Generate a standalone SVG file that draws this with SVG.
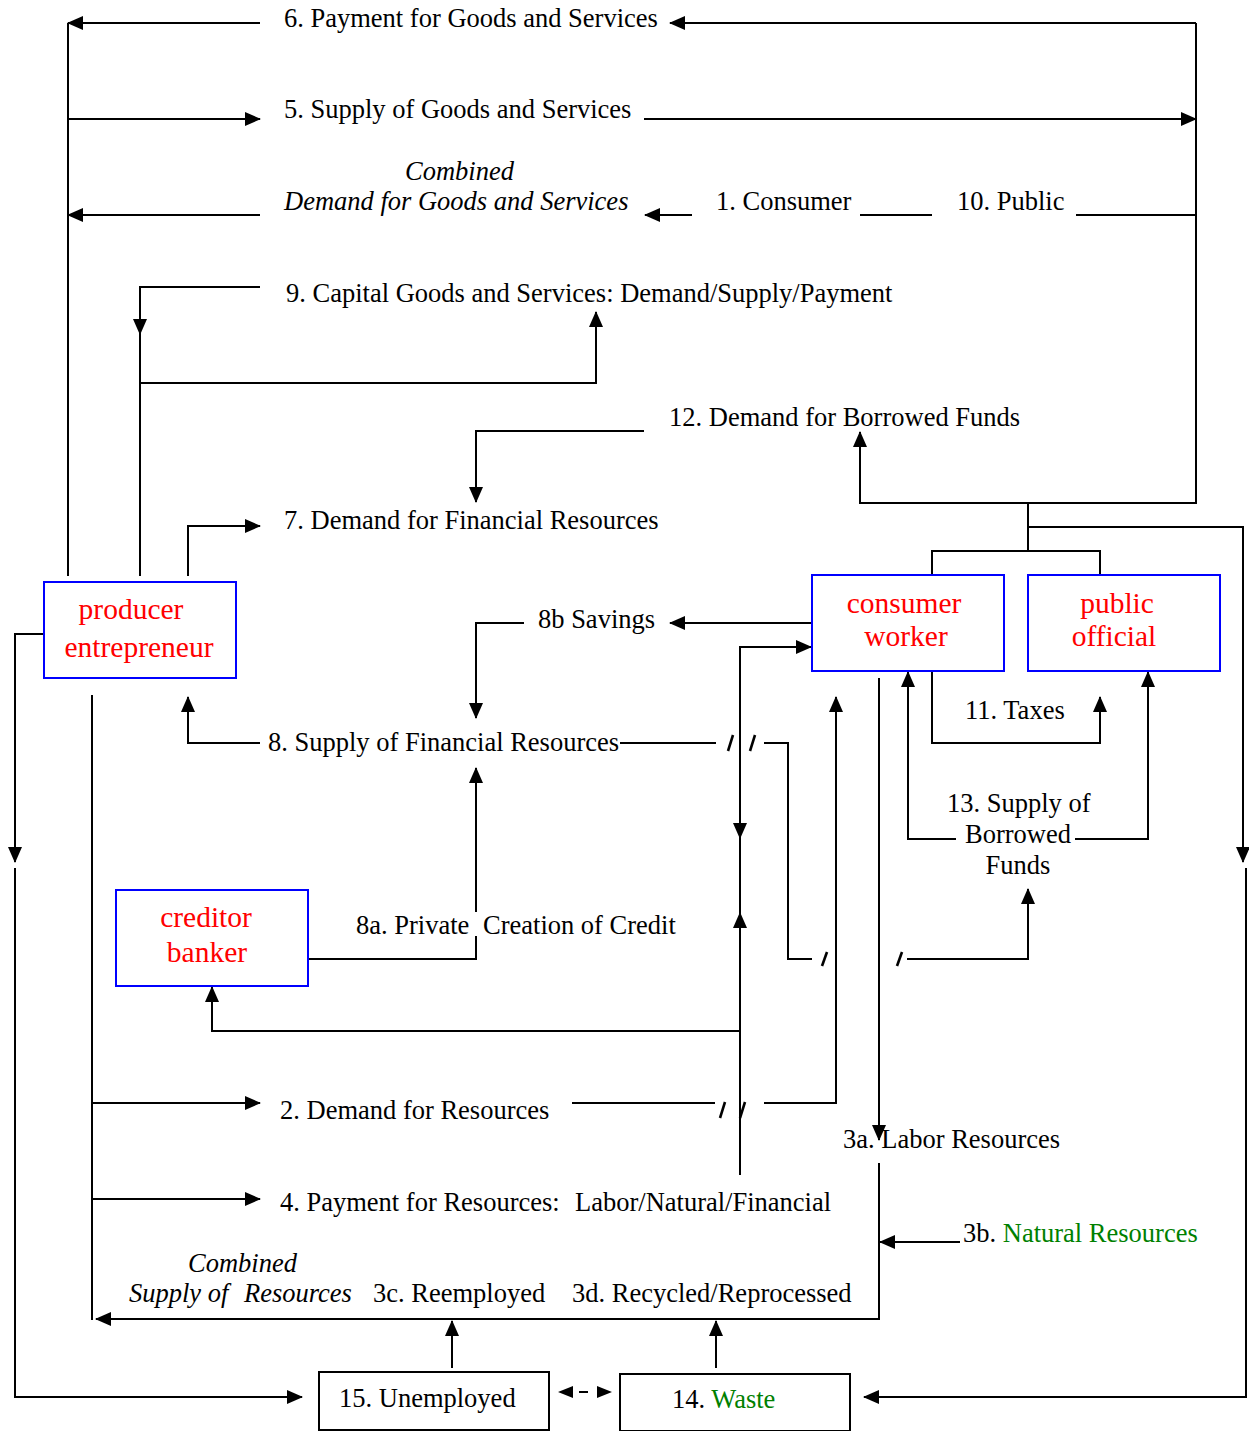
<svg xmlns="http://www.w3.org/2000/svg" width="1249" height="1431" viewBox="0 0 1249 1431">
  <defs>
    <marker id="ah" markerUnits="userSpaceOnUse" markerWidth="16" markerHeight="14" viewBox="0 0 16 14" refX="15" refY="7" orient="auto">
      <path d="M0,0 L16,7 L0,14 z" fill="#000"/>
    </marker>
    <style>
      .ln { stroke: #000; stroke-width: 2; fill: none; }
      .a { marker-end: url(#ah); }
      .sl { stroke: #000; stroke-width: 2.6; }
      .t { font-family: "Liberation Serif", "Times New Roman", serif; font-size: 26.5px; fill: #000; }
      .it { font-style: italic; }
      .mid { text-anchor: middle; }
      .g { fill: #008000; }
      .box { fill: #fff; stroke: #0000ff; stroke-width: 2; }
      .bbox { fill: #fff; stroke: #000; stroke-width: 2; }
      .nt { font-family: "Liberation Serif", "Times New Roman", serif; font-size: 29.5px; fill: #ff0000; text-anchor: middle; }
    </style>
  </defs>
  <rect width="1249" height="1431" fill="#fff"/>

  <!-- connectors -->
  <g id="connectors">
    <!-- producer trunk and goods/services flows -->
    <path class="ln" d="M68,23 V576"/>
    <path class="ln a" d="M260,23 H68"/>
    <path class="ln a" d="M1196,23 H670"/>
    <path class="ln a" d="M68,119 H260"/>
    <path class="ln a" d="M644,119 H1196"/>
    <path class="ln a" d="M260,215 H68"/>
    <path class="ln a" d="M692,215 H645"/>
    <path class="ln" d="M860,215 H932"/>
    <path class="ln" d="M1076,215 H1196"/>
    <path class="ln a" d="M1196,23 V503 H860 V432"/>

    <!-- capital goods -->
    <path class="ln a" d="M260,287 H140 V334"/>
    <path class="ln" d="M140,334 V576"/>
    <path class="ln a" d="M140,383 H596 V312"/>

    <!-- borrowed funds / financial demand -->
    <path class="ln a" d="M644,431 H476 V502"/>
    <path class="ln a" d="M188,576 V526 H260"/>

    <!-- consumer / public tree -->
    <path class="ln" d="M1028,503 V551"/>
    <path class="ln" d="M932,575 V551 H1100 V575"/>
    <path class="ln a" d="M1028,527 H1243 V862"/>
    <path class="ln a" d="M1246,868 V1397 H864"/>

    <!-- producer to unemployed -->
    <path class="ln a" d="M44,634 H15 V862"/>
    <path class="ln a" d="M15,868 V1397 H302"/>

    <!-- savings and financial supply -->
    <path class="ln a" d="M812,623 H670"/>
    <path class="ln a" d="M524,623 H476 V718"/>
    <path class="ln a" d="M260,743 H188 V697"/>
    <path class="ln" d="M620,743 H716"/>
    <path class="ln" d="M764,743 H788 V959 H812"/>
    <path class="ln a" d="M907,959 H1028 V889"/>
    <line class="sl" x1="733" y1="735" x2="728" y2="751"/>
    <line class="sl" x1="755" y1="735" x2="750" y2="751"/>
    <line class="sl" x1="827" y1="952" x2="822" y2="966"/>
    <line class="sl" x1="902" y1="952" x2="897" y2="966"/>

    <!-- payment flow to consumer worker -->
    <path class="ln a" d="M740,1175 V647 H811"/>
    <path class="ln a" d="M740,800 V838"/>
    <path class="ln a" d="M740,960 V913"/>

    <!-- credit creation -->
    <path class="ln a" d="M740,1031 H212 V987"/>
    <path class="ln" d="M308,959 H476 V936"/>
    <path class="ln a" d="M476,912 V768"/>

    <!-- taxes and borrowed funds supply -->
    <path class="ln a" d="M932,671 V743 H1100 V697"/>
    <path class="ln a" d="M956,839 H908 V672"/>
    <path class="ln a" d="M1075,839 H1148 V672"/>

    <!-- demand for resources -->
    <path class="ln a" d="M764,1103 H836 V697"/>
    <path class="ln" d="M572,1103 H715"/>
    <line class="sl" x1="725" y1="1102" x2="720" y2="1118"/>
    <line class="sl" x1="745" y1="1102" x2="740" y2="1118"/>
    <path class="ln a" d="M92,1103 H260"/>
    <path class="ln" d="M92,695 V1320"/>
    <path class="ln a" d="M92,1199 H260"/>

    <!-- labour and natural resources supply -->
    <path class="ln a" d="M879,678 V1140"/>
    <path class="ln a" d="M879,1163 V1319 H96"/>
    <path class="ln a" d="M960,1242 H880"/>
    <path class="ln a" d="M452,1368 V1321"/>
    <path class="ln a" d="M716,1368 V1321"/>

    <!-- unemployed / waste exchange -->
    <path d="M558,1392 L573,1386 L573,1398 z" fill="#000"/>
    <line x1="579" y1="1392" x2="588" y2="1392" stroke="#000" stroke-width="2"/>
    <path d="M612,1392 L597,1386 L597,1398 z" fill="#000"/>
  </g>

  <!-- labels -->
  <g id="labels">
    <text class="t" x="284" y="27">6. Payment for Goods and Services</text>
    <text class="t" x="284" y="118">5. Supply of Goods and Services</text>
    <text class="t it" x="405" y="180">Combined</text>
    <text class="t it" x="284" y="210">Demand for Goods and Services</text>
    <text class="t" x="716" y="210">1. Consumer</text>
    <text class="t" x="957" y="210">10. Public</text>
    <text class="t" x="286" y="302">9. Capital Goods and Services: Demand/Supply/Payment</text>
    <text class="t" x="669" y="426">12. Demand for Borrowed Funds</text>
    <text class="t" x="284" y="529">7. Demand for Financial Resources</text>
    <text class="t" x="538" y="628">8b Savings</text>
    <text class="t" x="268" y="751">8. Supply of Financial Resources</text>
    <text class="t" x="965" y="719">11. Taxes</text>
    <text class="t" x="947" y="812">13. Supply of</text>
    <text class="t mid" x="1018" y="843">Borrowed</text>
    <text class="t mid" x="1018" y="874">Funds</text>
    <text class="t" x="356" y="934">8a. Private</text>
    <text class="t" x="483" y="934">Creation of Credit</text>
    <text class="t" x="280" y="1119">2. Demand for Resources</text>
    <text class="t" x="843" y="1148">3a. Labor Resources</text>
    <text class="t" x="280" y="1211">4. Payment for Resources:</text>
    <text class="t" x="575" y="1211">Labor/Natural/Financial</text>
    <text class="t" x="963" y="1242">3b. <tspan class="g">Natural Resources</tspan></text>
    <text class="t it" x="188" y="1272">Combined</text>
    <text class="t it" x="129" y="1302">Supply of</text>
    <text class="t it" x="244" y="1302">Resources</text>
    <text class="t" x="373" y="1302">3c. Reemployed</text>
    <text class="t" x="572" y="1302">3d. Recycled/Reprocessed</text>
  </g>

  <!-- nodes -->
  <g id="producer">
    <rect class="box" x="44" y="582" width="192" height="96"/>
    <text class="nt" x="131" y="619">producer</text>
    <text class="nt" x="139" y="657">entrepreneur</text>
  </g>
  <g id="consumer">
    <rect class="box" x="812" y="575" width="192" height="96"/>
    <text class="nt" x="904" y="613">consumer</text>
    <text class="nt" x="906" y="646">worker</text>
  </g>
  <g id="public">
    <rect class="box" x="1028" y="575" width="192" height="96"/>
    <text class="nt" x="1117" y="613">public</text>
    <text class="nt" x="1114" y="646">official</text>
  </g>
  <g id="creditor">
    <rect class="box" x="116" y="890" width="192" height="96"/>
    <text class="nt" x="206" y="927">creditor</text>
    <text class="nt" x="207" y="962">banker</text>
  </g>
  <g id="unemployed">
    <rect class="bbox" x="319" y="1372" width="230" height="58"/>
    <text class="t" x="339" y="1407">15. Unemployed</text>
  </g>
  <g id="waste">
    <rect class="bbox" x="620" y="1374" width="230" height="57"/>
    <text class="t" x="672" y="1408">14. <tspan class="g">Waste</tspan></text>
  </g>
</svg>
